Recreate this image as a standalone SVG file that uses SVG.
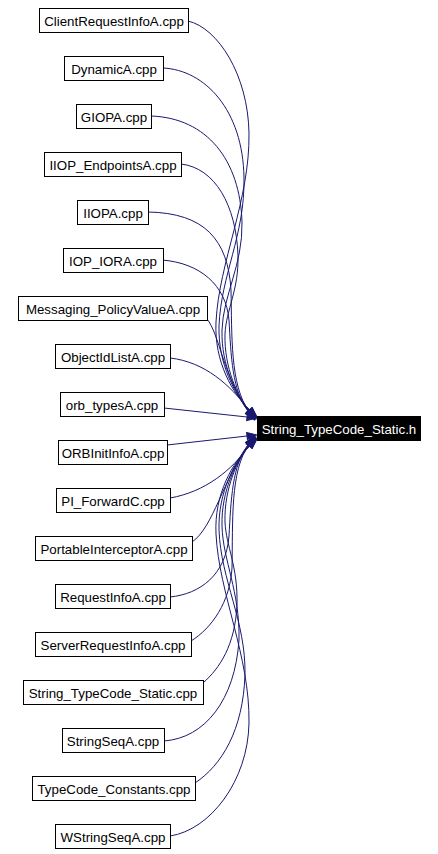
<svg xmlns="http://www.w3.org/2000/svg" width="438" height="854" viewBox="0 0 438 854">
<defs>
<style>
.n rect{fill:#fff;stroke:#000;stroke-width:1}
.n text{font-family:"Liberation Sans",Arial,sans-serif;font-size:13.3px;text-anchor:middle;fill:#000}
.t rect{fill:#000;stroke:#000;stroke-width:1}
.t text{font-family:"Liberation Sans",Arial,sans-serif;font-size:13.3px;text-anchor:middle;fill:#fff}
.e path{fill:none;stroke:#191970;stroke-width:1;marker-end:url(#arr)}
</style>
<marker id="arr" markerWidth="10" markerHeight="7" refX="0" refY="3.5" orient="auto" markerUnits="userSpaceOnUse" overflow="visible">
<path d="M0,0 L10,3.5 L0,7 Z" fill="#191970" stroke="#191970" stroke-width="1"/>
</marker>
</defs>
<rect width="438" height="854" fill="#fff"/>
<g id="edges" class="e">
<path d="M188,21 C218,28 248,75 249,133 C250,200 219,262 216,322 C214,362 233,394 249.8,410.1"/>
<path d="M163,68 C205,70 243,110 244,178 C245,235 221,275 219,326 C218,364 235,395 249.6,410.3"/>
<path d="M151,116 C207,118 240,160 242,222 C243,265 223,295 222,330 C221,366 237,396 249.3,410.6"/>
<path d="M181,164 C215,168 236,205 238,255 C239,290 226,310 225,334 C224,368 238,397 249.1,410.8"/>
<path d="M148,212 C205,213 228,240 231,290 C232,335 230,385 248.8,411.1"/>
<path d="M162,260 C200,263 226,285 229,320 C231,355 232,392 248.6,411.3"/>
<path d="M207,319 C219,333 224,378 248.3,411.6"/>
<path d="M170,358 C205,362 230,385 249,410"/>
<path d="M164,408 L247,417"/>
<path d="M167,445 L247,436"/>
<path d="M170,498 C205,492 232,470 249,446"/>
<path d="M192,542 C213,528 224,478 248.3,444.4"/>
<path d="M170,597 C200,594 226,575 229,536 C231,501 232,464 248.6,444.7"/>
<path d="M191,641 C212,628 230,602 232,568 C233,521 230,471 248.8,444.9"/>
<path d="M203,683 C220,668 235,645 237,605 C238,566 226,546 225,522 C224,488 238,459 249.1,445.2"/>
<path d="M164,741 C205,738 235,700 239,640 C240,591 223,561 222,526 C221,490 237,460 249.3,445.4"/>
<path d="M195,783 C222,765 243,730 245,675 C246,621 221,581 219,530 C218,492 235,461 249.6,445.7"/>
<path d="M170,836 C210,830 248,781 249,723 C250,656 219,594 216,534 C214,494 233,462 249.8,445.9"/>
</g>
<g id="target" class="t"><rect x="257.5" y="416.5" width="163" height="24"/><text x="339" y="433.5">String_TypeCode_Static.h</text></g>
<g id="n0" class="n"><rect x="39.5" y="8.5" width="149" height="24"/><text x="114" y="25.5">ClientRequestInfoA.cpp</text></g>
<g id="n1" class="n"><rect x="64.5" y="56.5" width="99" height="24"/><text x="114" y="73.5">DynamicA.cpp</text></g>
<g id="n2" class="n"><rect x="76.5" y="104.5" width="75" height="24"/><text x="114" y="121.5">GIOPA.cpp</text></g>
<g id="n3" class="n"><rect x="44.5" y="152.5" width="137" height="24"/><text x="113" y="169.5">IIOP_EndpointsA.cpp</text></g>
<g id="n4" class="n"><rect x="77.5" y="200.5" width="71" height="24"/><text x="113" y="217.5">IIOPA.cpp</text></g>
<g id="n5" class="n"><rect x="63.5" y="248.5" width="100" height="24"/><text x="113" y="265.5">IOP_IORA.cpp</text></g>
<g id="n6" class="n"><rect x="18.5" y="296.5" width="189" height="24"/><text x="113" y="313.5">Messaging_PolicyValueA.cpp</text></g>
<g id="n7" class="n"><rect x="55.5" y="344.5" width="115" height="24"/><text x="113" y="361.5">ObjectIdListA.cpp</text></g>
<g id="n8" class="n"><rect x="60.5" y="392.5" width="104" height="24"/><text x="112" y="409.5">orb_typesA.cpp</text></g>
<g id="n9" class="n"><rect x="58.5" y="440.5" width="109" height="24"/><text x="113" y="457.5">ORBInitInfoA.cpp</text></g>
<g id="n10" class="n"><rect x="56.5" y="488.5" width="114" height="24"/><text x="113" y="505.5">PI_ForwardC.cpp</text></g>
<g id="n11" class="n"><rect x="35.5" y="536.5" width="157" height="24"/><text x="114" y="553.5">PortableInterceptorA.cpp</text></g>
<g id="n12" class="n"><rect x="55.5" y="584.5" width="115" height="24"/><text x="113" y="601.5">RequestInfoA.cpp</text></g>
<g id="n13" class="n"><rect x="35.5" y="632.5" width="156" height="24"/><text x="113" y="649.5">ServerRequestInfoA.cpp</text></g>
<g id="n14" class="n"><rect x="23.5" y="680.5" width="180" height="24"/><text x="113" y="697.5">String_TypeCode_Static.cpp</text></g>
<g id="n15" class="n"><rect x="62.5" y="728.5" width="102" height="24"/><text x="113" y="745.5">StringSeqA.cpp</text></g>
<g id="n16" class="n"><rect x="32.5" y="776.5" width="163" height="24"/><text x="114" y="793.5">TypeCode_Constants.cpp</text></g>
<g id="n17" class="n"><rect x="55.5" y="824.5" width="115" height="24"/><text x="113" y="841.5">WStringSeqA.cpp</text></g>
</svg>
